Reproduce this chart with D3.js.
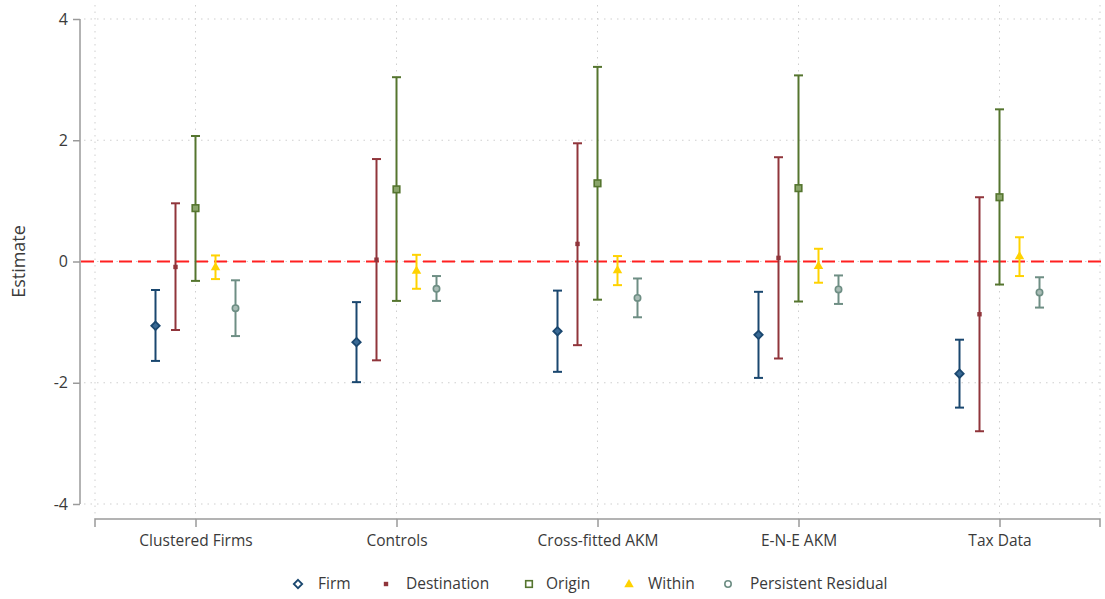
<!DOCTYPE html>
<html><head><meta charset="utf-8">
<script src="https://cdn.jsdelivr.net/npm/d3@7"></script>
<style>body{margin:0;background:#fff}svg{display:block;font-family:"Open Sans",sans-serif}</style>
</head><body><svg id="c" width="1105" height="599"></svg>
<script>
const categories = ["Clustered Firms","Controls","Cross-fitted AKM","E-N-E AKM","Tax Data"];
const seriesNames = ["Firm","Destination","Origin","Within","Persistent Residual"];
const yTicks = [-4,-2,0,2,4];
// estimates and 95% CI per series (order = categories)
const firmEst = [-1.06,-1.33,-1.15,-1.21,-1.85];
const firmLo  = [-1.64,-1.99,-1.82,-1.92,-2.41];
const firmHi  = [-0.47,-0.67,-0.48,-0.50,-1.29];
const destEst = [-0.09,0.03,0.29,0.06,-0.87];
const destLo  = [-1.13,-1.63,-1.38,-1.60,-2.80];
const destHi  = [0.96,1.69,1.95,1.72,1.06];
const origEst = [0.88,1.19,1.29,1.21,1.06];
const origLo  = [-0.32,-0.65,-0.63,-0.66,-0.38];
const origHi  = [2.07,3.04,3.21,3.07,2.51];
const withEst = [-0.09,-0.15,-0.14,-0.07,0.09];
const withLo  = [-0.29,-0.45,-0.39,-0.35,-0.24];
const withHi  = [0.10,0.11,0.09,0.21,0.40];
const persEst = [-0.77,-0.45,-0.60,-0.46,-0.51];
const persLo  = [-1.23,-0.65,-0.92,-0.70,-0.76];
const persHi  = [-0.31,-0.24,-0.28,-0.23,-0.26];

const est = [firmEst,destEst,origEst,withEst,persEst];
const lo = [firmLo,destLo,origLo,withLo,persLo];
const hi = [firmHi,destHi,origHi,withHi,persHi];
const colors = ["#1a476f","#90353b","#55752f","#ffd200","#6e8e84"];
const offsets = [-40,-20,0,20,40];

const svg = d3.select("#c");
const y = d3.scaleLinear().domain([-4,4]).range([504,19]);
const x = d3.scalePoint().domain(categories).range([95,1100]).padding(0.5);
const axisCol = "#9a9a9a", gridCol = "#cfcfcf", textCol = "#3a3a3a";

// horizontal grid
svg.append("g").selectAll("line").data(yTicks).join("line")
  .attr("x1",84).attr("x2",1100).attr("y1",d=>y(d)).attr("y2",d=>y(d))
  .attr("stroke",gridCol).attr("stroke-width",1).attr("stroke-dasharray","1.5,5");
// vertical grid
const vx = [95, ...categories.map(c=>x(c)), 1100];
svg.append("g").selectAll("line").data(vx).join("line")
  .attr("x1",d=>d).attr("x2",d=>d).attr("y1",5).attr("y2",519)
  .attr("stroke",gridCol).attr("stroke-width",1).attr("stroke-dasharray","1.5,5");

// y axis
const ya = svg.append("g").attr("transform","translate(80,0)")
  .call(d3.axisLeft(y).tickValues(yTicks).tickSize(7).tickPadding(5).tickFormat(d=>String(d)));
ya.select(".domain").attr("stroke",axisCol).attr("stroke-width",1.5).attr("d","M0,"+y(-4)+"V"+y(4));
ya.selectAll(".tick line").attr("stroke",axisCol).attr("stroke-width",1.5);
ya.selectAll(".tick text").attr("fill",textCol).style("font-size","16px").style("font-family","Open Sans");

// x axis
const xa = svg.append("g").attr("transform","translate(0,519)")
  .call(d3.axisBottom(x).tickSize(8).tickPadding(8));
xa.select(".domain").attr("stroke",axisCol).attr("stroke-width",1.5).attr("d","M95,8V0H1100V8");
xa.selectAll(".tick line").attr("stroke",axisCol).attr("stroke-width",1.5);
xa.selectAll(".tick text").attr("fill",textCol).style("font-size","15.5px").style("font-family","Open Sans");

// y label
svg.append("text").attr("transform","translate(25,"+y(0)+") rotate(-90)")
  .attr("text-anchor","middle").attr("fill",textCol).style("font-size","18px").text("Estimate");

// zero line
svg.append("line").attr("x1",81).attr("x2",1105).attr("y1",y(0)).attr("y2",y(0))
  .attr("stroke","#ff2020").attr("stroke-width",2).attr("stroke-dasharray","13,6");

function marker(g, s, cx, cy, legend){
  const c = colors[s];
  if(s===0){
    const r=4.2;
    g.append("path").attr("d",`M${cx},${cy-r}L${cx+r},${cy}L${cx},${cy+r}L${cx-r},${cy}Z`)
      .attr("fill",legend?"#fff":"#3a6a95").attr("stroke",c).attr("stroke-width",1.8);
  } else if(s===1){
    g.append("rect").attr("x",cx-2.2).attr("y",cy-2.2).attr("width",4.4).attr("height",4.4).attr("fill",c);
  } else if(s===2){
    g.append("rect").attr("x",cx-3.3).attr("y",cy-3.3).attr("width",6.6).attr("height",6.6)
      .attr("fill",legend?"#fff":"#8aa56a").attr("stroke",c).attr("stroke-width",1.6);
  } else if(s===3){
    const r=5;
    g.append("path").attr("d",`M${cx},${cy-r}L${cx+r*0.95},${cy+r*0.65}L${cx-r*0.95},${cy+r*0.65}Z`).attr("fill",c);
  } else {
    g.append("circle").attr("cx",cx).attr("cy",cy).attr("r",3.2)
      .attr("fill",legend?"#fff":"#a9bdb6").attr("stroke",c).attr("stroke-width",1.6);
  }
}

// error bars and points
seriesNames.forEach((name,s)=>{
  const g = svg.append("g");
  categories.forEach((cat,i)=>{
    const cx = x(cat)+offsets[s];
    const c = colors[s];
    g.append("line").attr("x1",cx).attr("x2",cx).attr("y1",y(lo[s][i])).attr("y2",y(hi[s][i]))
      .attr("stroke",c).attr("stroke-width",2);
    [lo[s][i],hi[s][i]].forEach(v=>{
      g.append("line").attr("x1",cx-4.5).attr("x2",cx+4.5).attr("y1",y(v)).attr("y2",y(v))
        .attr("stroke",c).attr("stroke-width",2);
    });
    marker(g,s,cx,y(est[s][i]),false);
  });
});

// legend
const legMarkX = [298,386,529,629,728];
const legTextX = [318,406,546,648,750];
const lg = svg.append("g");
seriesNames.forEach((name,s)=>{
  marker(lg,s,legMarkX[s],584,true);
  lg.append("text").attr("x",legTextX[s]).attr("y",584).attr("dy","0.35em")
    .attr("fill",textCol).style("font-size","15.5px").text(name);
});
</script></body></html>
